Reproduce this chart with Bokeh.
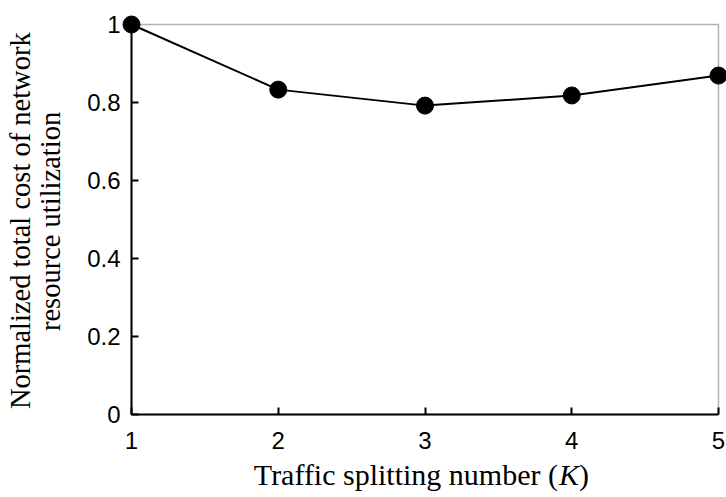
import math
from bokeh.plotting import figure
from bokeh.models import Range1d, Label, FixedTicker, LinearAxis, BoxAnnotation
from bokeh.embed import file_html
from bokeh.resources import INLINE

k_values = [1, 2, 3, 4, 5]
normalized_cost = [1.0, 0.833, 0.792, 0.818, 0.869]
x_ticks = [1, 2, 3, 4, 5]
y_ticks = [0, 0.2, 0.4, 0.6, 0.8, 1.0]
y_tick_labels = {0: "0", 0.2: "0.2", 0.4: "0.4", 0.6: "0.6", 0.8: "0.8", 1.0: "1"}

W, H = 726, 497
# pixel layout of the data box inside the canvas
box_left, box_right, box_top, box_bottom = 131, 718, 24, 414
px_x = (box_right - box_left) / 4.0
px_y = (box_bottom - box_top) / 1.0
x0 = 1 - box_left / px_x
x1 = 5 + (W - box_right) / px_x
y1 = 1 + box_top / px_y
y0 = 0 - (H - box_bottom) / px_y

p = figure(width=W, height=H, output_backend="svg", toolbar_location=None,
           x_range=Range1d(x0, x1), y_range=Range1d(y0, y1),
           x_axis_location=None, y_axis_location=None, min_border=0)
p.grid.visible = False
p.outline_line_color = None
p.background_fill_color = "white"
p.border_fill_color = "white"

p.add_layout(BoxAnnotation(left=1, right=5, bottom=0, top=1, fill_color=None,
                           line_color="black", line_width=1.5))

p.line(k_values, normalized_cost, line_color="black", line_width=2)
p.scatter(k_values, normalized_cost, size=17, fill_color="black", line_color="black")

xaxis = LinearAxis(fixed_location=0, bounds=(1, 5), ticker=FixedTicker(ticks=x_ticks))
yaxis = LinearAxis(fixed_location=1, bounds=(0, 1), ticker=FixedTicker(ticks=y_ticks))
yaxis.major_label_overrides = y_tick_labels
for ax in (xaxis, yaxis):
    ax.axis_line_width = 2
    ax.axis_line_color = "black"
    ax.major_tick_in = 7
    ax.major_tick_out = 0
    ax.major_tick_line_width = 2
    ax.major_tick_line_color = "black"
    ax.minor_tick_line_color = None
    ax.major_label_text_font = "Liberation Sans"
    ax.major_label_text_font_size = "24px"
    ax.major_label_text_color = "black"
xaxis.major_label_standoff = 17
yaxis.major_label_standoff = 11
p.add_layout(xaxis, "below")
p.add_layout(yaxis, "left")

serif = dict(text_font="Liberation Serif", text_color="black", text_baseline="alphabetic")

# y axis title (two lines, rotated)
p.add_layout(Label(x=1, x_offset=-111, y=0.497, text="Normalized total cost of network",
                   angle=math.pi / 2, text_align="center", text_font_size="28.5px", **serif))
p.add_layout(Label(x=1, x_offset=-81, y=0.495, text="resource utilization",
                   angle=math.pi / 2, text_align="center", text_font_size="28.5px", **serif))

# x axis title with italic K
lab_y = -60 / px_y
p.add_layout(Label(x=3, x_offset=133, y=lab_y, text="Traffic splitting number (",
                   text_align="right", text_font_size="30px", **serif))
p.add_layout(Label(x=3, x_offset=134, y=lab_y, text="K", text_align="left",
                   text_font_style="italic", text_font_size="30px", **serif))
p.add_layout(Label(x=3, x_offset=154, y=lab_y, text=")", text_align="left",
                   text_font_size="30px", **serif))

open("out.html", "w").write(file_html(p, INLINE))
